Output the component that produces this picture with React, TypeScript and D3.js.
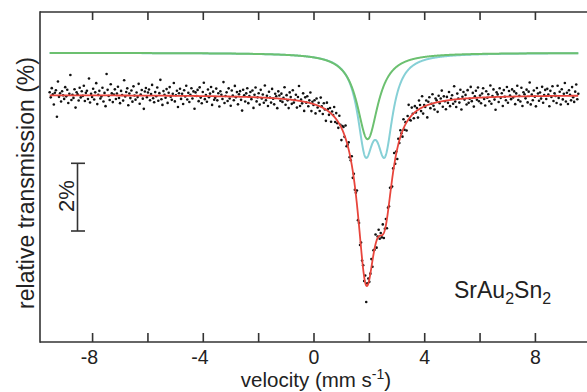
import React from 'react';
import * as d3 from 'd3';

// Axis ticks
const xTicks = [-8, -6, -4, -2, 0, 2, 4, 6, 8];
const xTickLabels = ['-8', '', '-4', '', '0', '', '4', '', '8'];

// Measurement channel grid (velocity, mm/s)
const velocityRange = [-9.55, 9.55];
const channelCount = 512;

// Fit parameters (transmission in %)
const baselineLevel = 100;
const componentBaseline = 101.24;
const greenCenters = [1.935];
const greenHalfWidths = [0.46];
const greenDepths = [2.54];
const cyanCenters = [1.86, 2.56];
const cyanHalfWidths = [0.35, 0.35];
const cyanDepths = [2.56, 2.56];

// Residuals of the measured points around the fit, in units of 0.015 %
const residualUnit = 0.015;
const residuals = [
  6, -4, 14, 2, -18, 5, 10, -42, 27, -3, 4, -12, 8, 0, -7, 16, -2, 11, -15, 3, 40, -9, 1, -5, 12, -24, 6, 2, -10, 15, -4, 8,
  -1, 19, -11, 5, 9, -7, 33, -14, 3, -3, 13, -8, 6, 24, -17, 1, 9, -6, -2, 15, -12, 5, -21, 42, 11, -1, -9, 22, 4, -13, 2, 12,
  -7, 4, 17, -5, -15, 9, 1, -10, 30, -2, 7, 14, -19, 4, -5, 10, -12, 18, 0, -8, 6, -3, 23, -16, 2, 11, -6, -26, 8, 15, -3, 6,
  12, -9, 3, 21, -5, -13, 7, -1, 16, -10, 5, 31, -7, -18, 9, 2, -4, 13, -14, 6, 17, -2, -8, 4, 25, -11, 1, 10, -22, 5, 14, -6,
  4, -16, 11, -1, 20, -7, 6, -12, 2, 15, -5, 9, -25, 7, 0, 12, -10, 17, -3, -14, 8, 26, -6, 2, -11, 13, -2, 5, 18, -17, 9, -7,
  -3, 15, -8, 6, -20, 10, 3, -5, 28, -13, 1, 8, -9, 16, -4, -18, 12, 2, -7, 21, -1, 9, -15, 5, 11, -6, -27, 14, 3, -9, 7, 17,
  -12, 2, 10, -4, 13, -21, 5, 19, -8, 0, 8, -14, 15, -2, 6, -10, 24, -5, 4, -16, 12, 1, -9, 18, -1, -12, 9, 4, -19, 14, 6, -4,
  10, -6, 2, 23, -11, 8, -2, -17, 14, 5, -8, 19, -5, 1, 11, -14, 7, 29, -10, 3, -4, 16, -18, 9, -1, 12, -7, 5, 21, -15, 4, -2,
  8, -17, 13, -4, 6, -9, 18, 2, -12, 10, -1, -22, 15, 4, -6, 9, -16, 6, 1, 19, -8, 12, -5, -11, 16, 2, -24, 8, 11, -3, 25, -9,
  1, 14, -6, -2, 17, -13, 9, -7, 4, 27, -11, 5, -16, 11, -3, 7, -8, 14, -32, 5, 10, -5, 0, 16, -12, 8, -2, 19, -14, 3, 13, -6,
  5, -4, 20, -10, 2, 12, -18, 8, -5, 15, -1, -14, 7, 24, -9, 4, -20, 11, -5, 13, 1, -11, 18, -7, 4, -16, 9, 28, -4, -8, 15, 1,
  -10, 12, -2, 5, -15, 17, 7, -6, 22, -13, 3, -2, 10, -24, 6, 14, -8, 0, 18, -5, -13, 8, 4, -19, 12, -3, 6, 21, -11, 9, -1, -17,
  7, -5, 16, -12, 2, 9, -8, 26, -4, -15, 11, 1, -7, 18, -21, 4, 13, -2, 7, -12, 16, -9, -1, 22, -6, 10, -17, 3, 14, -4, 20, -7,
  4, -11, 8, 18, -3, -16, 12, -1, 6, -8, 23, -13, 2, 15, -5, -25, 9, 5, -10, 17, -2, 7, -18, 13, 0, -7, 19, -12, 11, 2, -5, 14,
  -2, 10, -15, 6, 21, -7, 1, -10, 17, -19, 8, 4, -4, 13, -12, 9, 27, -16, 3, -8, 11, -1, -20, 16, 5, -9, 7, -5, 18, -13, 2, 12,
  -6, 14, 3, -20, 10, -2, 19, -10, 5, 0, -14, 20, -4, 8, -17, 13, -7, 4, 25, -11, 6, -16, 11, 2, -9, 17, -3, -12, 8, 22, -7, 4,
];

const W = 587;
const H = 392;
const FONT = "'Liberation Sans', Arial, Helvetica, sans-serif";

const lorentz = (v: number, centers: number[], widths: number[], depths: number[]) =>
  centers.reduce((s, c, i) => s + depths[i] / (1 + ((v - c) / widths[i]) ** 2), 0);

export default function App() {
  const x = d3.scaleLinear().domain([-9.9, 9.9]).range([40, 588]);
  const y = d3.scaleLinear().domain([92.74, 102.44]).range([342, 12]);

  const step = (velocityRange[1] - velocityRange[0]) / (channelCount - 1);
  const channels = d3.range(channelCount).map((i) => velocityRange[0] + i * step);
  const fine = d3.range(0, 2001).map((i) => velocityRange[0] + (i * (velocityRange[1] - velocityRange[0])) / 2000);

  const greenFn = (v: number) => componentBaseline - lorentz(v, greenCenters, greenHalfWidths, greenDepths);
  const cyanFn = (v: number) => componentBaseline - lorentz(v, cyanCenters, cyanHalfWidths, cyanDepths);
  const totalFn = (v: number) =>
    baselineLevel -
    lorentz(v, greenCenters, greenHalfWidths, greenDepths) -
    lorentz(v, cyanCenters, cyanHalfWidths, cyanDepths);

  const line = d3.line<number>().x((v) => x(v)).curve(d3.curveLinear);

  const greenPath = line.y((v) => y(greenFn(v)))(fine) || '';
  const cyanPath = line.y((v) => y(cyanFn(v)))(fine) || '';
  const redPath = line.y((v) => y(totalFn(v)))(fine) || '';

  const points = channels.map((v, i) => ({ v, t: totalFn(v) + residuals[i] * residualUnit }));

  const axisColor = '#333';

  return (
    <svg
      width={W}
      height={H}
      style={{ position: 'absolute', left: 0, top: 0, background: '#fff' }}
      fontFamily={FONT}
    >
      <rect x={0} y={0} width={W} height={H} fill="#fff" />
      {/* component curves */}
      <path d={cyanPath} fill="none" stroke="#86d0d6" strokeWidth={2} />
      <path d={greenPath} fill="none" stroke="#6cc070" strokeWidth={2} />
      {/* data points */}
      {points.map((p, i) => (
        <circle key={i} cx={x(p.v)} cy={y(p.t)} r={1.3} fill="#111" />
      ))}
      {/* fit */}
      <path d={redPath} fill="none" stroke="#e8453c" strokeWidth={1.8} />

      {/* frame */}
      <line x1={40} x2={W} y1={12} y2={12} stroke={axisColor} strokeWidth={1.6} />
      <line x1={40} x2={W} y1={342} y2={342} stroke={axisColor} strokeWidth={1.6} />
      <line x1={40} x2={40} y1={11.2} y2={342.8} stroke={axisColor} strokeWidth={1.6} />
      {xTicks.map((t, i) => (
        <g key={t}>
          <line x1={x(t)} x2={x(t)} y1={12} y2={20} stroke={axisColor} strokeWidth={1.6} />
          <line x1={x(t)} x2={x(t)} y1={342} y2={333} stroke={axisColor} strokeWidth={1.6} />
          {xTickLabels[i] && (
            <text x={x(t) + 5.4} y={364} textAnchor="end" fontSize={19.5} fill="#222">
              {xTickLabels[i]}
            </text>
          )}
        </g>
      ))}

      {/* axis titles */}
      <text x={316} y={387} textAnchor="middle" fontSize={20.5} fill="#222">
        velocity (mm s<tspan fontSize={14} dy={-8}>-1</tspan>
        <tspan dy={8}>)</tspan>
      </text>
      <text transform="translate(34,183) rotate(-90)" textAnchor="middle" fontSize={23} fill="#222">
        relative transmission (%)
      </text>

      {/* 2% scale bar */}
      <line x1={77.5} x2={77.5} y1={163.3} y2={231} stroke={axisColor} strokeWidth={1.6} />
      <line x1={71} x2={85} y1={163.3} y2={163.3} stroke={axisColor} strokeWidth={1.6} />
      <line x1={71} x2={85} y1={231} y2={231} stroke={axisColor} strokeWidth={1.6} />
      <text transform="translate(74,196) rotate(-90)" textAnchor="middle" fontSize={22} fill="#222">
        2%
      </text>

      {/* sample label */}
      <text x={454} y={298} fontSize={23} fill="#222">
        SrAu<tspan fontSize={16} dy={6}>2</tspan>
        <tspan dy={-6}>Sn</tspan>
        <tspan fontSize={16} dy={6}>2</tspan>
      </text>
    </svg>
  );
}
